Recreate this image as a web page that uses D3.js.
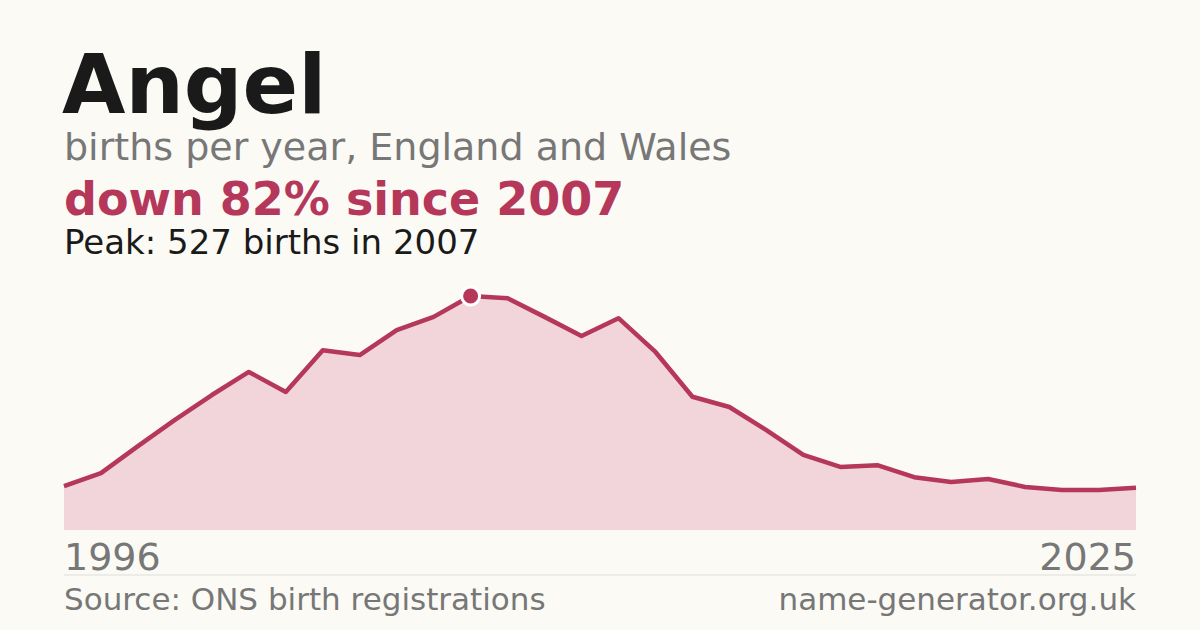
<!DOCTYPE html>
<html><head><meta charset="utf-8">
<script src="https://cdn.jsdelivr.net/npm/d3@7"></script>
<style>body{margin:0;background:#fbfaf5}svg{display:block}</style>
</head><body>
<svg id="chart" width="1200" height="630"></svg>
<script>
// Angel births per year
const years = d3.range(1996, 2026);
const births = [99, 128, 189, 248, 304, 356, 311, 405, 394, 450, 480, 527, 522, 480, 437, 477,
                401, 300, 277, 225, 169, 142, 146, 119, 108, 115, 97, 90, 90, 95];
const data = years.map((y, i) => ({year: y, value: births[i]}));

const svg = d3.select('#chart');
const font = 'DejaVu Sans, sans-serif';
const red = '#b5375a';

svg.append('rect').attr('width', 1200).attr('height', 630).attr('fill', '#fbfaf5');

const x = d3.scaleLinear().domain([1996, 2025]).range([64, 1136]);
const y = d3.scaleLinear().domain([0, 527]).range([530, 296]);

svg.append('path').datum(data)
   .attr('fill', '#f2d5da')
   .attr('d', d3.area().x(d => x(d.year)).y0(y(0)).y1(d => y(d.value)));

svg.append('path').datum(data)
   .attr('fill', 'none').attr('stroke', red).attr('stroke-width', 4.5)
   .attr('stroke-linejoin', 'round')
   .attr('d', d3.line().x(d => x(d.year)).y(d => y(d.value)));

const peak = data.reduce((a, b) => b.value > a.value ? b : a);
svg.append('circle').attr('cx', x(peak.year)).attr('cy', y(peak.value)).attr('r', 9)
   .attr('fill', red).attr('stroke', '#fff').attr('stroke-width', 3);

const text = (t, px, py, size, fill, weight, anchor) =>
  svg.append('text').attr('x', px).attr('y', py).attr('font-family', font)
     .attr('font-size', size).attr('fill', fill).attr('font-weight', weight || 'normal')
     .attr('text-anchor', anchor || 'start').text(t);

text('Angel', 62, 113, 82, '#1a1a1a', 'bold');
text('births per year, England and Wales', 64, 160, 38, '#777');
text('down 82% since 2007', 64, 215, 46, red, 'bold');
text('Peak: 527 births in 2007', 64, 254, 34, '#1a1a1a');

text('1996', 64, 570, 38, '#777');
text('2025', 1136, 570, 38, '#777', 'normal', 'end');
svg.append('line').attr('x1', 64).attr('x2', 1136).attr('y1', 575).attr('y2', 575)
   .attr('stroke', '#ddd').attr('stroke-width', 1);
text('Source: ONS birth registrations', 64, 610, 31, '#777');
text('name-generator.org.uk', 1136, 610, 31, '#777', 'normal', 'end');
</script>
</body></html>
